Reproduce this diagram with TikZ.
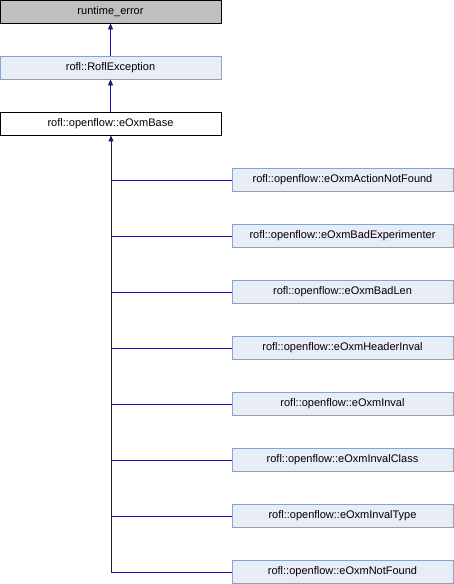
\documentclass[tikz,border=0pt]{standalone}
\usepackage{fontspec}
\setmainfont{Liberation Sans}
\usetikzlibrary{arrows.meta}
\definecolor{edgeblue}{HTML}{191970}
\definecolor{classfill}{HTML}{E8ECF5}
\definecolor{classborder}{HTML}{8DA0C8}
\definecolor{extfill}{HTML}{BFBFBF}
\begin{document}
\begin{tikzpicture}[x=1pt,y=-1pt,
  box/.style={draw, minimum width=221pt, minimum height=23pt, inner sep=0pt,
    font=\fontsize{11}{13}\selectfont, line width=0.8pt},
  extbox/.style={box, fill=extfill, draw=black},
  basebox/.style={box, fill=white, draw=black},
  docbox/.style={box, fill=classfill, draw=classborder},
  inherit/.style={draw=edgeblue, line width=0.8pt, -{Triangle[length=6pt,width=5pt]}},
  branch/.style={draw=edgeblue, line width=0.8pt}]
\useasboundingbox (0,0) rectangle (454,584);

\node[extbox] (rt) at (110.5,11.5) {runtime\_error};
\node[docbox] (rofl) at (110.5,67.5) {rofl::RoflException};
\node[basebox] (base) at (110.5,123.5) {rofl::openflow::eOxmBase};

\node[docbox] (c1) at (342.5,180) {rofl::openflow::eOxmActionNotFound};
\node[docbox] (c2) at (342.5,236) {rofl::openflow::eOxmBadExperimenter};
\node[docbox] (c3) at (342.5,292) {rofl::openflow::eOxmBadLen};
\node[docbox] (c4) at (342.5,348) {rofl::openflow::eOxmHeaderInval};
\node[docbox] (c5) at (342.5,404) {rofl::openflow::eOxmInval};
\node[docbox] (c6) at (342.5,460) {rofl::openflow::eOxmInvalClass};
\node[docbox] (c7) at (342.5,516) {rofl::openflow::eOxmInvalType};
\node[docbox] (c8) at (342.5,572) {rofl::openflow::eOxmNotFound};

\draw[inherit] (rofl) -- (rt);
\draw[inherit] (base) -- (rofl);

% shared trunk from the base class down to the last derived class
\coordinate (trunk) at (111,572);
\draw[inherit] (trunk) -- (base.south -| trunk);
\foreach \c in {c1,c2,c3,c4,c5,c6,c7,c8}
  \draw[branch] (\c.west) -- (\c.west -| trunk);
\end{tikzpicture}
\end{document}
